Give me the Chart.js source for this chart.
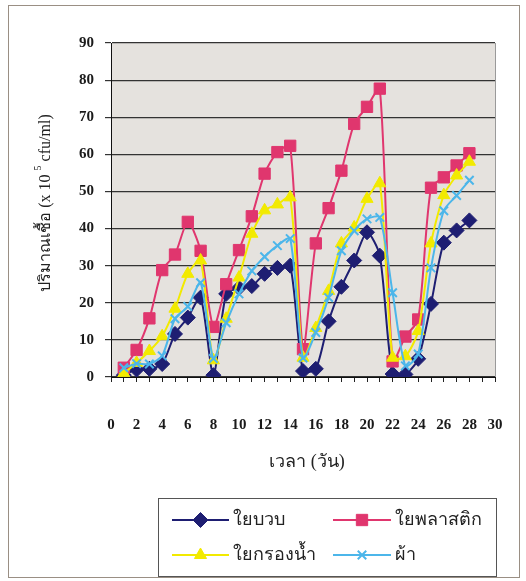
<!DOCTYPE html>
<html>
<head>
<meta charset="utf-8">
<script src="https://cdn.jsdelivr.net/npm/chart.js@4.4.1/dist/chart.umd.min.js"></script>
<style>
html,body{margin:0;padding:0;background:#fff;}
#wrap{position:relative;width:526px;height:581px;}
canvas{display:block;}
</style>
</head>
<body>
<div id="wrap"><canvas id="c" width="526" height="581"></canvas></div>
<script>
const days = [1,2,3,4,5,6,7,8,9,10,11,12,13,14,15,16,17,18,19,20,21,22,23,24,25,26,27,28];
const seriesNames = ['ใยบวบ','ใยพลาสติก','ใยกรองน้ำ','ผ้า'];
const loofah   = [0.5,2,2.2,3.5,11.6,16,21.4,0.5,22.4,24,24.5,27.8,29.4,30,1.6,2.2,15,24.3,31.4,39,32.7,0.8,0.7,4.9,19.7,36.2,39.5,42.2];
const plastic  = [2.5,7.3,15.8,28.8,33,41.8,34,13.5,25,34.2,43.3,54.8,60.6,62.3,7.5,36,45.5,55.6,68.2,72.8,77.7,4.2,10.9,15.5,51,53.8,57,60.3];
const filterF  = [1,3.8,7,11,18.4,27.8,31.4,4.5,15.7,26.8,38.6,44.9,46.5,48.4,5.2,13.2,23.2,36,40.3,48,52.2,5.2,5.6,12.4,36,49,54.3,58];
const cloth    = [2.5,3.6,3.5,5.7,15.7,19,25.4,5,14.6,22.4,28.6,32.4,35.4,37.3,5.1,12,21.4,34,39.4,42.6,43,22.7,3,6.2,29.4,44.8,48.9,53];
const xTitle = 'เวลา (วัน)';
const yTitleA = 'ปริมาณเชื้อ (x 10 ';
const yTitleSup = '5';
const yTitleB = ' cfu/ml)';

const colors = ['#1e1e72','#e0366e','#f2ea00','#4cb6ea'];
const styles = ['rectRot','rect','triangle','crossRot'];
const radii = [7.5,8,7,6];
const allData = [loofah, plastic, filterF, cloth];

const datasets = allData.map((arr,i)=>({
  label: seriesNames[i],
  data: arr.map((v,j)=>({x:days[j], y:v})),
  borderColor: colors[i],
  backgroundColor: colors[i],
  pointBackgroundColor: colors[i],
  pointBorderColor: colors[i],
  pointStyle: styles[i],
  pointRadius: radii[i],
  pointBorderWidth: i===3?2:1,
  borderWidth: 2,
  tension: 0.25,
  order: 3-i
}));

const deco = {
  id:'deco',
  beforeDraw(chart){
    const ctx = chart.ctx, a = chart.chartArea;
    ctx.save();
    ctx.fillStyle = '#fff';
    ctx.fillRect(0,0,chart.width,chart.height);
    ctx.strokeStyle = '#9a8f84';
    ctx.lineWidth = 1;
    ctx.strokeRect(8.5,5.5,511,572);
    ctx.fillStyle = '#e5e2de';
    ctx.fillRect(a.left,a.top,a.right-a.left,a.bottom-a.top);
    ctx.restore();
  },
  afterDatasetsDraw(chart){
    const ctx = chart.ctx, a = chart.chartArea;
    ctx.save();
    ctx.strokeStyle = '#9a9a9a';
    ctx.lineWidth = 1;
    ctx.beginPath();
    ctx.moveTo(Math.round(a.right)+0.5, a.top);
    ctx.lineTo(Math.round(a.right)+0.5, a.bottom);
    ctx.stroke();
    // x title
    ctx.fillStyle = '#222';
    ctx.font = '18px "Liberation Serif", serif';
    ctx.textAlign = 'center';
    ctx.textBaseline = 'middle';
    ctx.fillText(xTitle, 307, 462);
    // y title rotated
    ctx.translate(46, 203);
    ctx.rotate(-Math.PI/2);
    const f1 = '16px "Liberation Serif", serif';
    const f2 = '10px "Liberation Serif", serif';
    ctx.font = f1; const wA = ctx.measureText(yTitleA).width; const wB = ctx.measureText(yTitleB).width;
    ctx.font = f2; const wS = ctx.measureText(yTitleSup).width;
    let x0 = -(wA+wS+wB)/2;
    ctx.textAlign = 'left';
    ctx.font = f1; ctx.fillText(yTitleA, x0, 0);
    ctx.font = f2; ctx.fillText(yTitleSup, x0+wA, -8);
    ctx.font = f1; ctx.fillText(yTitleB, x0+wA+wS, 0);
    ctx.setTransform(1,0,0,1,0,0);
    // legend
    const L = {l:158, t:498, r:496, b:576};
    ctx.strokeStyle = '#555';
    ctx.lineWidth = 1;
    ctx.strokeRect(L.l+0.5, L.t+0.5, L.r-L.l, L.b-L.t);
    const items = [
      {i:0, x1:172, x2:229, y:520},
      {i:1, x1:333, x2:391, y:520},
      {i:2, x1:172, x2:229, y:555},
      {i:3, x1:333, x2:391, y:555}
    ];
    items.forEach(it=>{
      const c = colors[it.i];
      ctx.strokeStyle = c; ctx.lineWidth = 2;
      ctx.beginPath(); ctx.moveTo(it.x1, it.y); ctx.lineTo(it.x2, it.y); ctx.stroke();
      ctx.fillStyle = c; ctx.strokeStyle = c;
      ctx.lineWidth = it.i===3?2:1;
      Chart.helpers.drawPoint(ctx, {pointStyle: styles[it.i], radius: radii[it.i], rotation:0, borderWidth: it.i===3?2:1}, (it.x1+it.x2)/2, it.y);
      ctx.fillStyle = '#222';
      ctx.font = '18px "Liberation Serif", serif';
      ctx.textAlign = 'left';
      ctx.textBaseline = 'middle';
      ctx.fillText(seriesNames[it.i], it.x2+4, it.y);
    });
    ctx.restore();
  }
};

new Chart(document.getElementById('c'), {
  type:'line',
  data:{datasets},
  options:{
    responsive:false,
    animation:false,
    layout:{padding:{left:0,right:31,top:43,bottom:129}},
    plugins:{legend:{display:false}, tooltip:{enabled:false}},
    scales:{
      x:{
        type:'linear', min:0, max:30,
        afterFit(s){ s.height = 75; s.paddingRight = 0; s.paddingLeft = 0; },
        afterBuildTicks(s){ const t=[]; for(let v=0;v<=30;v++) t.push({value:v}); s.ticks=t; },
        ticks:{
          autoSkip:false, maxRotation:0, padding:34,
          color:'#1a1a1a',
          font:{family:'"Liberation Serif", serif', size:15, weight:'bold'},
          callback:(v)=> (v%2===0 ? String(v) : '')
        },
        grid:{drawOnChartArea:false, drawTicks:true, tickLength:5, color:'#222'},
        border:{display:true, color:'#111', width:1}
      },
      y:{
        min:0, max:90,
        afterFit(s){ s.width = 111; },
        ticks:{
          stepSize:10, padding:11, color:'#1a1a1a',
          font:{family:'"Liberation Serif", serif', size:15, weight:'bold'}
        },
        grid:{color:'#333', lineWidth:1.2, tickLength:6, drawTicks:true},
        border:{display:true, color:'#111', width:1}
      }
    }
  },
  plugins:[deco]
});
</script>
</body>
</html>
